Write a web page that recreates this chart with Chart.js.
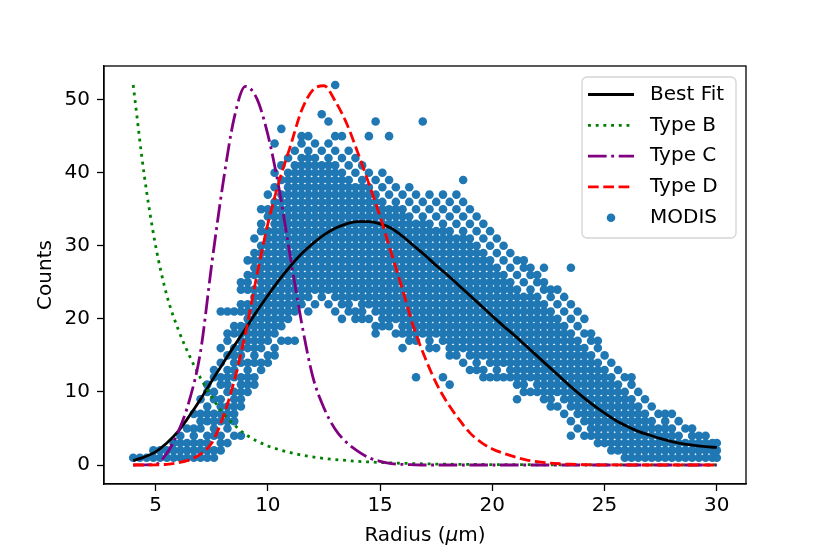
<!DOCTYPE html>
<html>
<head>
<meta charset="utf-8">
<script src="https://cdn.jsdelivr.net/npm/chart.js@4.4.0/dist/chart.umd.min.js"></script>
<style>
  html, body { margin: 0; padding: 0; background: #fff; }
  #chart { display: block; }
</style>
</head>
<body>
<canvas id="chart" width="830" height="554"></canvas>
<script>
// ==================== DATA ====================
// x grid for the fitted curves (radius, um)
const curveRadius = [
    4.0, 4.5, 5.0, 5.5, 6.0, 6.5, 7.0, 7.5, 8.0, 8.5, 9.0, 9.5, 10.0, 10.5, 11.0, 11.5, 12.0, 12.5,
    13.0, 13.5, 14.0, 14.5, 15.0, 15.5, 16.0, 16.5, 17.0, 17.5, 18.0, 18.5, 19.0, 19.5, 20.0, 20.5,
    21.0, 21.5, 22.0, 22.5, 23.0, 23.5, 24.0, 24.5, 25.0, 25.5, 26.0, 26.5, 27.0, 27.5, 28.0, 28.5,
    29.0, 29.5, 30.0
];
const bestFit = [
    0.6, 1.1, 1.8, 3.0, 4.6, 6.7, 9.0, 11.5, 13.9, 16.3, 18.6, 21.0, 23.2, 25.3, 27.2, 28.9, 30.3, 31.5,
    32.4, 33.0, 33.3, 33.3, 33.0, 32.4, 31.3, 30.0, 28.7, 27.3, 26.0, 24.6, 23.2, 21.8, 20.4, 19.0,
    17.7, 16.3, 14.9, 13.5, 12.1, 10.7, 9.4, 8.2, 7.1, 6.1, 5.3, 4.6, 4.1, 3.6, 3.2, 2.9,
    2.7, 2.5, 2.4
];
const typeB = [
    52.0, 39.5, 30.0, 23.2, 18.6, 15.0, 11.9, 9.3, 7.1, 5.5, 4.2, 3.3, 2.6, 2.1, 1.7, 1.35, 1.1, 0.9,
    0.75, 0.62, 0.5, 0.42, 0.34, 0.28, 0.23, 0.19, 0.16, 0.13, 0.11, 0.09, 0.08, 0.07, 0.06, 0.05,
    0.04, 0.04, 0.03, 0.03, 0.02, 0.02, 0.02, 0.02, 0.01, 0.01, 0.01, 0.01, 0.01, 0.01, 0.01, 0.01,
    0.01, 0.01, 0.01
];
const typeC = [
    0.0, 0.02, 0.1, 1.6, 4.5, 8.8, 15.5, 27.5, 38.5, 47.5, 51.8, 50.2, 45.2, 37.8, 28.5, 19.5, 12.1, 7.8,
    4.9, 3.1, 1.9, 1.0, 0.5, 0.2, 0.08, 0.03, 0.0, 0.0, 0.0, 0.0, 0.0, 0.0, 0.0, 0.0,
    0.0, 0.0, 0.0, 0.0, 0.0, 0.0, 0.0, 0.0, 0.0, 0.0, 0.0, 0.0, 0.0, 0.0, 0.0, 0.0,
    0.0, 0.0, 0.0
];
const typeD = [
    0.0, 0.0, 0.02, 0.1, 0.3, 0.7, 1.5, 3.0, 6.5, 11.5, 18.0, 25.8, 33.0, 38.8, 43.6, 48.5, 51.3, 51.9,
    49.8, 46.8, 42.8, 38.5, 34.0, 29.0, 24.0, 18.8, 14.7, 11.2, 8.5, 6.3, 4.4, 3.1, 2.2, 1.6,
    1.1, 0.7, 0.45, 0.28, 0.17, 0.1, 0.06, 0.03, 0.02, 0.01, 0.0, 0.0, 0.0, 0.0, 0.0, 0.0,
    0.0, 0.0, 0.0
];

// MODIS counts, read column by column off the scatter cloud
const modisRadius = [
    4.0, 4.3, 4.6, 4.9, 5.2, 5.5, 5.8, 6.1, 6.4, 6.7, 7.0, 7.3, 7.6, 7.9, 8.2, 8.5, 8.8, 9.1, 9.4, 9.7,
    10.0, 10.3, 10.6, 10.9, 11.2, 11.5, 11.8, 12.1, 12.4, 12.7, 13.0, 13.3, 13.6, 13.9, 14.2, 14.5,
    14.8, 15.1, 15.4, 15.7, 16.0, 16.3, 16.6, 16.9, 17.2, 17.5, 17.8, 18.1, 18.4, 18.7, 19.0, 19.3,
    19.6, 19.9, 20.2, 20.5, 20.8, 21.1, 21.4, 21.7, 22.0, 22.3, 22.6, 22.9, 23.2, 23.5, 23.8, 24.1,
    24.4, 24.7, 25.0, 25.3, 25.6, 25.9, 26.2, 26.5, 26.8, 27.1, 27.4, 27.7, 28.0, 28.3, 28.6, 28.9,
    29.2, 29.5, 29.8, 30.0
];
const modisCounts = [
    [1], [1], [1], [1, 2], [1, 2], [1, 2], [1, 2, 3], [1, 2, 3, 4], [1, 2, 3, 5], [1, 2, 3, 4, 5, 7],
    [1, 2, 3, 5, 6, 7, 9],
    [1, 2, 3, 4, 6, 7, 8, 10, 11],
    [1, 2, 4, 5, 6, 7, 9, 10, 12, 13],
    [2, 3, 4, 6, 7, 8, 9, 11, 12, 14, 16, 21],
    [3, 5, 6, 7, 8, 10, 11, 12, 13, 15, 17, 18, 21],
    [4, 6, 7, 8, 9, 10, 12, 13, 14, 15, 16, 18, 19, 21],
    [4, 8, 9, 10, 11, 12, 14, 15, 16, 17, 18, 19, 21, 22, 24, 25],
    [10, 11, 12, 13, 14, 16, 17, 18, 19, 20, 21, 22, 24, 25, 26, 28],
    [11, 12, 14, 15, 16, 17, 18, 19, 20, 21, 22, 23, 24, 26, 27, 28, 29, 31],
    [13, 14, 16, 17, 18, 19, 20, 21, 22, 23, 24, 25, 26, 27, 28, 29, 30, 32, 33, 35],
    [14, 15, 17, 18, 19, 20, 21, 22, 23, 24, 25, 26, 27, 28, 29, 30, 31, 32, 34, 35, 37],
    [15, 16, 18, 19, 20, 21, 22, 23, 24, 25, 26, 27, 28, 29, 30, 31, 32, 33, 34, 35, 36, 38, 40, 44],
    [17, 19, 20, 21, 22, 23, 24, 25, 26, 27, 28, 29, 30, 31, 32, 33, 34, 35, 36, 37, 39, 41, 46],
    [17, 20, 21, 22, 23, 24, 25, 26, 27, 28, 29, 30, 31, 32, 33, 34, 35, 36, 37, 38, 39, 40, 42],
    [17, 21, 22, 23, 24, 25, 26, 27, 28, 29, 30, 31, 32, 33, 34, 35, 36, 37, 38, 39, 40, 41, 43],
    [22, 23, 24, 25, 26, 27, 28, 29, 30, 31, 32, 33, 34, 35, 36, 37, 38, 39, 40, 41, 42, 44, 45],
    [21, 23, 24, 25, 26, 27, 28, 29, 30, 31, 32, 33, 34, 35, 36, 37, 38, 39, 40, 41, 42, 43, 45],
    [22, 24, 25, 26, 27, 28, 29, 30, 31, 32, 33, 34, 35, 36, 37, 38, 39, 40, 41, 42, 44],
    [23, 24, 25, 26, 27, 28, 29, 30, 31, 32, 33, 34, 35, 36, 37, 38, 39, 40, 41, 43, 48],
    [22, 24, 25, 26, 27, 28, 29, 30, 31, 32, 33, 34, 35, 36, 37, 38, 39, 40, 41, 42, 44, 47],
    [21, 23, 24, 25, 26, 27, 28, 29, 30, 31, 32, 33, 34, 35, 36, 37, 38, 39, 40, 41, 43, 45, 52],
    [20, 22, 23, 24, 25, 26, 27, 28, 29, 30, 31, 32, 33, 34, 35, 36, 37, 38, 39, 40, 42, 45],
    [21, 22, 23, 24, 25, 26, 27, 28, 29, 30, 31, 32, 33, 34, 35, 36, 37, 38, 39, 41, 43],
    [20, 21, 23, 24, 25, 26, 27, 28, 29, 30, 31, 32, 33, 34, 35, 36, 37, 38, 40, 42],
    [20, 21, 22, 23, 24, 25, 26, 27, 28, 29, 30, 31, 32, 33, 34, 35, 36, 37, 38, 39, 41],
    [20, 22, 23, 24, 25, 26, 27, 28, 29, 30, 31, 32, 33, 34, 35, 36, 37, 38, 40, 45],
    [18, 19, 21, 22, 23, 24, 25, 26, 27, 28, 29, 30, 31, 32, 33, 34, 35, 36, 37, 39, 47],
    [19, 20, 21, 22, 23, 24, 25, 26, 27, 28, 29, 30, 31, 32, 33, 34, 35, 36, 38, 40],
    [19, 20, 21, 22, 23, 24, 25, 26, 27, 28, 29, 30, 31, 32, 33, 34, 35, 37, 39, 45],
    [18, 20, 21, 22, 23, 24, 25, 26, 27, 28, 29, 30, 31, 32, 33, 34, 35, 36, 38],
    [16, 18, 19, 20, 21, 22, 23, 24, 25, 26, 27, 28, 29, 30, 31, 32, 33, 34, 35, 37],
    [17, 18, 19, 20, 21, 22, 23, 24, 25, 26, 27, 28, 29, 30, 31, 32, 33, 34, 36, 38],
    [12, 17, 18, 19, 20, 21, 22, 23, 24, 25, 26, 27, 28, 29, 30, 31, 32, 33, 35, 37],
    [18, 19, 20, 21, 22, 23, 24, 25, 26, 27, 28, 29, 30, 31, 32, 33, 34, 36, 47],
    [16, 17, 18, 19, 20, 21, 22, 23, 24, 25, 26, 27, 28, 29, 30, 31, 32, 33, 35, 37],
    [16, 18, 19, 20, 21, 22, 23, 24, 25, 26, 27, 28, 29, 30, 31, 32, 34, 36],
    [12, 17, 18, 19, 20, 21, 22, 23, 24, 25, 26, 27, 28, 29, 30, 31, 32, 33, 35, 37],
    [11, 15, 16, 17, 18, 19, 20, 21, 22, 23, 24, 25, 26, 27, 28, 29, 30, 31, 32, 34, 36],
    [15, 16, 17, 18, 19, 20, 21, 22, 23, 24, 25, 26, 27, 28, 29, 30, 31, 33, 35, 37],
    [14, 16, 17, 18, 19, 20, 21, 22, 23, 24, 25, 26, 27, 28, 29, 30, 31, 32, 34, 36, 39],
    [13, 15, 16, 17, 18, 19, 20, 21, 22, 23, 24, 25, 26, 27, 28, 29, 30, 31, 33, 35],
    [13, 14, 15, 16, 17, 18, 19, 20, 21, 22, 23, 24, 25, 26, 27, 28, 29, 30, 32, 34],
    [12, 13, 15, 16, 17, 18, 19, 20, 21, 22, 23, 24, 25, 26, 27, 28, 29, 31, 33],
    [12, 14, 15, 16, 17, 18, 19, 20, 21, 22, 23, 24, 25, 26, 27, 28, 30, 32],
    [12, 13, 14, 15, 16, 17, 18, 19, 20, 21, 22, 23, 24, 25, 26, 27, 29, 31],
    [12, 14, 15, 16, 17, 18, 19, 20, 21, 22, 23, 24, 25, 26, 28, 30],
    [12, 13, 14, 15, 16, 17, 18, 19, 20, 21, 22, 23, 24, 25, 27, 29],
    [9, 11, 12, 13, 14, 15, 16, 17, 18, 19, 20, 21, 22, 23, 24, 26, 28],
    [10, 11, 12, 13, 14, 15, 16, 17, 18, 19, 20, 21, 22, 23, 25, 27, 28],
    [10, 12, 13, 14, 15, 16, 17, 18, 19, 20, 21, 22, 23, 24, 26, 27],
    [10, 11, 12, 13, 14, 15, 16, 17, 18, 19, 20, 21, 22, 23, 25, 26],
    [9, 10, 11, 12, 13, 14, 15, 16, 17, 18, 19, 20, 21, 22, 24, 25, 27],
    [8, 9, 10, 11, 12, 13, 14, 15, 16, 17, 18, 19, 20, 21, 23, 24],
    [8, 10, 11, 12, 13, 14, 15, 16, 17, 18, 19, 20, 22, 24],
    [7, 9, 10, 11, 12, 13, 14, 15, 16, 17, 18, 19, 21, 23],
    [4, 6, 8, 9, 10, 11, 12, 13, 14, 15, 16, 17, 18, 20, 22, 27],
    [5, 7, 8, 9, 10, 11, 12, 13, 14, 15, 16, 17, 19, 21],
    [4, 6, 7, 8, 9, 10, 11, 12, 13, 14, 15, 16, 18, 20],
    [4, 5, 6, 7, 8, 9, 10, 11, 12, 13, 14, 15, 17, 18],
    [3, 4, 5, 6, 7, 8, 9, 10, 11, 12, 13, 14, 16, 17],
    [3, 4, 5, 6, 7, 8, 9, 10, 11, 12, 13, 15],
    [2, 3, 4, 5, 6, 7, 8, 9, 10, 11, 12, 14],
    [2, 3, 4, 5, 6, 7, 8, 9, 10, 11, 13],
    [1, 2, 3, 4, 5, 6, 7, 8, 9, 10, 12],
    [1, 2, 3, 4, 5, 6, 7, 8, 9, 11, 12],
    [1, 2, 3, 4, 5, 6, 7, 8, 10],
    [1, 2, 3, 4, 5, 6, 7, 9],
    [1, 2, 3, 4, 5, 6, 8],
    [1, 2, 3, 4, 5, 7],
    [1, 2, 3, 4, 5, 6, 7],
    [1, 2, 3, 4, 5, 7],
    [1, 2, 3, 4, 6],
    [1, 2, 3, 5],
    [1, 2, 3, 4, 5],
    [1, 2, 3, 4],
    [1, 2, 3, 4],
    [1, 2, 3],
    [1, 2, 3]
];

const xTicks = [5, 10, 15, 20, 25, 30];
const yTicks = [0, 10, 20, 30, 40, 50];

// ==================== BUILD ====================
const FONT = "'DejaVu Sans', 'Liberation Sans', sans-serif";
const FS = 20;

function toPoints(xs, ys) {
    return xs.map((x, i) => ({ x: x, y: ys[i] }));
}

const modisPoints = [];
modisRadius.forEach((r, i) => {
    modisCounts[i].forEach(c => modisPoints.push({ x: r, y: c }));
});

const LW = 2.8;
function curve(label, ys, color, dash, order) {
    return {
        label: label,
        data: toPoints(curveRadius, ys),
        showLine: true,
        borderColor: color,
        backgroundColor: color,
        borderWidth: LW,
        borderDash: dash,
        borderCapStyle: 'butt',
        pointRadius: 0,
        fill: false,
        cubicInterpolationMode: 'monotone',
        order: order
    };
}

const datasets = [
    curve('Best Fit', bestFit, '#000000', [], 4),
    curve('Type B', typeB, '#008000', [2.9, 4.8], 3),
    curve('Type C', typeC, '#800080', [18.6, 4.6, 2.9, 4.6], 2),
    curve('Type D', typeD, '#ff0000', [10.7, 4.6], 1),
    {
        label: 'MODIS',
        data: modisPoints,
        pointRadius: 4.3,
        pointBackgroundColor: '#1f77b4',
        pointBorderWidth: 0,
        backgroundColor: '#1f77b4',
        showLine: false,
        order: 5
    }
];

// ==================== PLUGINS ====================
// full box around the axes (matplotlib spines)
const framePlugin = {
    id: 'frame',
    afterDatasetsDraw(chart) {
        const a = chart.chartArea;
        const ctx = chart.ctx;
        ctx.save();
        ctx.strokeStyle = '#000';
        ctx.lineWidth = 1.3;
        ctx.setLineDash([]);
        ctx.strokeRect(a.left, a.top, a.right - a.left, a.bottom - a.top);
        ctx.restore();
    }
};

// x axis title with an italic mu, like the mathtext original
const xTitlePlugin = {
    id: 'xTitle',
    afterDraw(chart) {
        const ctx = chart.ctx;
        const a = chart.chartArea;
        const parts = [
            { text: 'Radius (', font: FS + 'px ' + FONT },
            { text: 'μ', font: 'italic ' + FS + 'px ' + FONT },
            { text: 'm)', font: FS + 'px ' + FONT }
        ];
        ctx.save();
        ctx.fillStyle = '#000';
        ctx.textBaseline = 'middle';
        ctx.textAlign = 'left';
        let total = 0;
        parts.forEach(p => { ctx.font = p.font; p.w = ctx.measureText(p.text).width; total += p.w; });
        let x = (a.left + a.right) / 2 - total / 2;
        parts.forEach(p => {
            ctx.font = p.font;
            ctx.fillText(p.text, x, 536);
            x += p.w;
        });
        ctx.restore();
    }
};

// legend drawn inside the plot, upper right
const insideLegend = {
    id: 'insideLegend',
    afterDraw(chart) {
        const ctx = chart.ctx;
        const box = { x: 582, y: 77, w: 154, h: 161, r: 5 };
        ctx.save();
        ctx.beginPath();
        ctx.moveTo(box.x + box.r, box.y);
        ctx.arcTo(box.x + box.w, box.y, box.x + box.w, box.y + box.h, box.r);
        ctx.arcTo(box.x + box.w, box.y + box.h, box.x, box.y + box.h, box.r);
        ctx.arcTo(box.x, box.y + box.h, box.x, box.y, box.r);
        ctx.arcTo(box.x, box.y, box.x + box.w, box.y, box.r);
        ctx.closePath();
        ctx.fillStyle = 'rgba(255,255,255,0.8)';
        ctx.fill();
        ctx.strokeStyle = '#d5d5d5';
        ctx.lineWidth = 1.3;
        ctx.stroke();

        ctx.font = FS + 'px ' + FONT;
        ctx.textBaseline = 'middle';
        ctx.textAlign = 'left';
        chart.data.datasets.forEach((ds, i) => {
            const cy = 94.5 + i * 30.8;
            if (ds.showLine) {
                ctx.beginPath();
                ctx.strokeStyle = ds.borderColor;
                ctx.lineWidth = ds.borderWidth;
                ctx.lineCap = 'butt';
                ctx.setLineDash(ds.borderDash);
                ctx.moveTo(588, cy);
                ctx.lineTo(634, cy);
                ctx.stroke();
                ctx.setLineDash([]);
            } else {
                ctx.beginPath();
                ctx.fillStyle = ds.pointBackgroundColor;
                ctx.arc(611, cy, ds.pointRadius, 0, Math.PI * 2);
                ctx.fill();
            }
            ctx.fillStyle = '#000';
            ctx.fillText(ds.label, 650, cy);
        });
        ctx.restore();
    }
};

// ==================== CHART ====================
new Chart(document.getElementById('chart'), {
    type: 'scatter',
    data: { datasets: datasets },
    plugins: [framePlugin, xTitlePlugin, insideLegend],
    options: {
        responsive: false,
        animation: false,
        events: [],
        layout: { padding: { left: 0, right: 84, top: 66, bottom: 0 } },
        plugins: {
            legend: { display: false },
            tooltip: { enabled: false }
        },
        scales: {
            x: {
                type: 'linear',
                min: 2.7,
                max: 31.3,
                afterFit: s => { s.height = 70; },
                afterBuildTicks: s => { s.ticks = xTicks.map(v => ({ value: v })); },
                ticks: { color: '#000', font: { family: FONT, size: FS }, padding: 3, maxRotation: 0 },
                grid: { drawOnChartArea: false, drawTicks: true, tickLength: 7, tickWidth: 1.3, tickColor: '#000' },
                border: { display: true, color: '#000', width: 1.3 },
                title: { display: false }
            },
            y: {
                type: 'linear',
                min: -2.6,
                max: 54.6,
                afterFit: s => { s.width = 104; },
                afterBuildTicks: s => { s.ticks = yTicks.map(v => ({ value: v })); },
                ticks: { color: '#000', font: { family: FONT, size: FS }, padding: 7 },
                grid: { drawOnChartArea: false, drawTicks: true, tickLength: 7, tickWidth: 1.3, tickColor: '#000' },
                border: { display: true, color: '#000', width: 1.3 },
                title: { display: true, text: 'Counts', color: '#000', font: { family: FONT, size: FS }, padding: { top: 34, bottom: 0 } }
            }
        }
    }
});
</script>
</body>
</html>
